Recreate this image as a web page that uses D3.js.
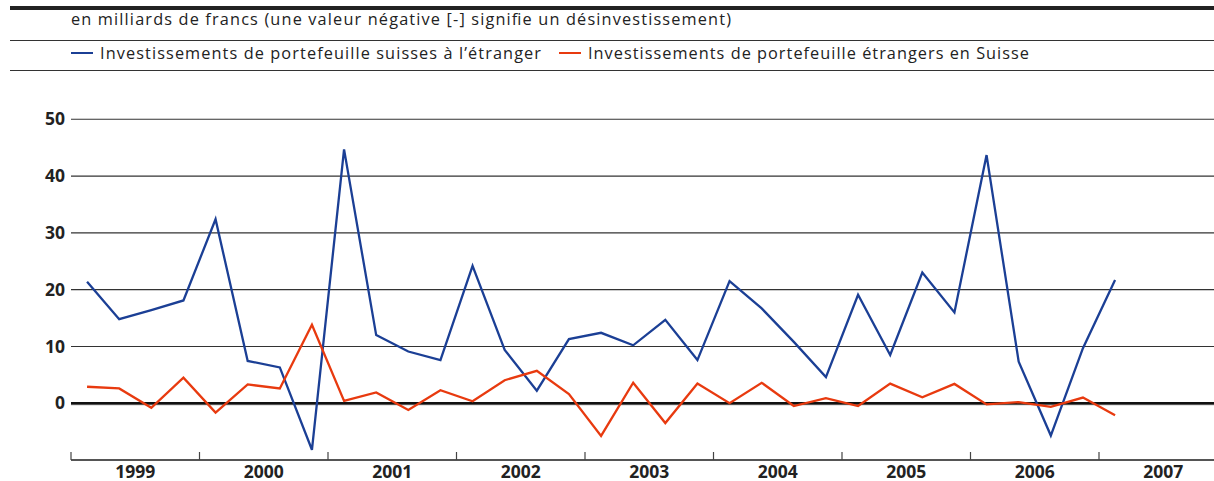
<!DOCTYPE html>
<html><head><meta charset="utf-8">
<script src="https://cdn.jsdelivr.net/npm/d3@7"></script>
<style>body{margin:0;background:#fff}svg{display:block}text{font-family:"Open Sans",sans-serif}</style>
</head><body><svg id="c" width="1214" height="481"></svg>
<script>
const years = [1999,2000,2001,2002,2003,2004,2005,2006,2007];
const yTicks = [0,10,20,30,40,50];
const subtitle = "en milliards de francs (une valeur négative [-] signifie un désinvestissement)";
const seriesNames = ["Investissements de portefeuille suisses à l’étranger","Investissements de portefeuille étrangers en Suisse"];
const seriesColors = ["#1b3f95","#e83a0f"];
// quarterly values, 1999 Q1 .. 2007 Q1
const suissesEtranger = [21.4,14.8,16.4,18.1,32.4,7.45,6.3,-8.2,44.7,12.0,9.1,7.6,24.2,9.4,2.2,11.3,12.4,10.2,14.7,7.6,21.5,16.7,10.8,4.6,19.1,8.5,23.0,16.0,43.7,7.3,-5.7,9.7,21.7];
const etrangersSuisse = [2.9,2.6,-0.8,4.5,-1.65,3.3,2.6,13.8,0.4,1.9,-1.2,2.3,0.35,4.05,5.7,1.6,-5.75,3.6,-3.5,3.45,0.0,3.6,-0.5,0.9,-0.5,3.45,1.05,3.4,-0.2,0.2,-0.65,1.0,-2.1];

const svg = d3.select("#c");
const x = d3.scaleLinear().domain([1999,2008]).range([71,1227.5]);
const y = d3.scaleLinear().domain([-10,50]).range([460,119.3]);
const W = 1214;

// header rules
svg.append("rect").attr("x",10).attr("y",6).attr("width",W-10).attr("height",4).attr("fill","#222");
svg.append("line").attr("x1",10).attr("x2",W).attr("y1",40.5).attr("y2",40.5).attr("stroke","#333").attr("stroke-width",1);
svg.append("line").attr("x1",10).attr("x2",W).attr("y1",70.5).attr("y2",70.5).attr("stroke","#333").attr("stroke-width",1);
svg.append("text").attr("x",71).attr("y",24.5).attr("font-size",16.3).attr("fill","#222")
  .attr("textLength",660).attr("lengthAdjust","spacing").text(subtitle);

// legend
const legX = [71, 559];
const leg = svg.append("g");
seriesNames.forEach((n,i)=>{
  leg.append("line").attr("x1",legX[i]).attr("x2",legX[i]+22).attr("y1",53).attr("y2",53).attr("stroke",seriesColors[i]).attr("stroke-width",2);
  leg.append("text").attr("x",legX[i]+29).attr("y",58.5).attr("font-size",16.3).attr("fill","#222")
    .attr("textLength",441).attr("lengthAdjust","spacing").text(n);
});

// gridlines
svg.append("g").selectAll("line").data(yTicks.filter(d=>d!==0)).join("line")
  .attr("x1",71).attr("x2",W).attr("y1",d=>y(d)).attr("y2",d=>y(d))
  .attr("stroke","#333").attr("stroke-width",1.1);
svg.append("g").selectAll("text").data(yTicks).join("text")
  .attr("x",65).attr("y",d=>y(d)).attr("dy","0.35em").attr("text-anchor","end")
  .attr("font-size",17.5).attr("font-weight","bold").attr("fill","#222").text(d=>d);

// x axis
const xa = svg.append("g");
xa.append("line").attr("x1",71).attr("x2",W).attr("y1",y(-10)).attr("y2",y(-10)).attr("stroke","#555").attr("stroke-width",2);
xa.selectAll("line.t").data(years).join("line").attr("class","t")
  .attr("x1",d=>x(d)).attr("x2",d=>x(d)).attr("y1",y(-10)).attr("y2",y(-10)-8).attr("stroke","#444").attr("stroke-width",1.2);
xa.selectAll("text").data(years).join("text")
  .attr("x",d=>x(d+0.5)).attr("y",477.5).attr("text-anchor","middle")
  .attr("font-size",17.5).attr("font-weight","bold").attr("fill","#222").text(d=>d);

// zero line
svg.append("line").attr("x1",71).attr("x2",W).attr("y1",y(0)+1.2).attr("y2",y(0)+1.2).attr("stroke","#999").attr("stroke-width",1.5);
svg.append("line").attr("x1",71).attr("x2",W).attr("y1",y(0)).attr("y2",y(0)).attr("stroke","#111").attr("stroke-width",2.5);

const line = d3.line().x((d,i)=>x(1999+(i+0.5)/4)).y(d=>y(d));
[suissesEtranger, etrangersSuisse].forEach((s,i)=>{
  svg.append("path").attr("d",line(s)).attr("fill","none").attr("stroke",seriesColors[i]).attr("stroke-width",2.3).attr("stroke-linejoin","miter");
});
</script></body></html>
